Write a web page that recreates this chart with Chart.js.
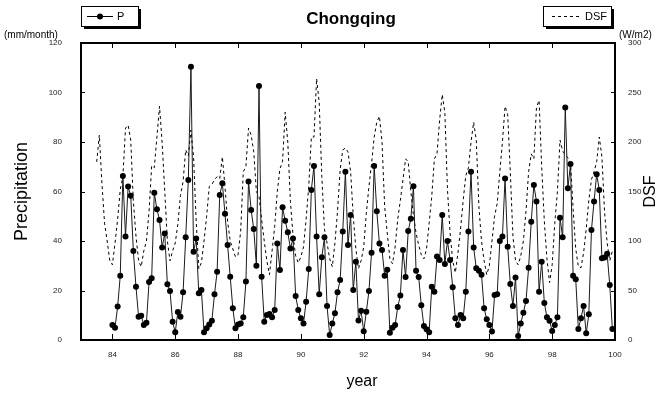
<!DOCTYPE html>
<html>
<head>
<meta charset="utf-8">
<script src="https://cdn.jsdelivr.net/npm/chart.js@4.4.1/dist/chart.umd.min.js"></script>
<style>
  body { margin: 0; background: #fff; }
  #box { width: 669px; height: 394px; }
</style>
</head>
<body>
<div id="box"><canvas id="chongqing" width="669" height="394"></canvas></div>
<script>
// monthly precipitation (mm/month), Jan 1984 .. Dec 1999
var precip = [
  6.1, 5.0, 13.5, 26, 66.3, 41.8, 62, 58.3, 36, 21.5, 9.4, 9.8,
  6.1, 7, 23.4, 25, 59.5, 52.8, 48.5, 37.4, 43, 22.5, 19.8, 7.4,
  3.1, 11.3, 9.4, 19.3, 41.5, 64.6, 110.4, 35.7, 41, 18.9, 20.2, 3.1,
  4.7, 6.3, 7.8, 18.5, 27.6, 58.6, 63.3, 51, 38.4, 25.6, 12.8, 4.7,
  6.3, 6.7, 9.2, 23.6, 64, 52.5, 44.8, 30, 102.6, 25.6, 7.4, 10.1,
  10.5, 9.2, 12.1, 39, 28.3, 53.6, 48.2, 43.5, 37, 41, 17.8, 12.1,
  8.8, 6.7, 15.5, 28.7, 60.6, 70.3, 41.8, 18.5, 33.4, 41.5, 13.7, 2.0,
  6.7, 10.8, 19.3, 24.2, 43.8, 68, 38.4, 50.5, 20.2, 31.6, 7.9, 11.8,
  3.5, 11.4, 19.8, 35.3, 70.3, 52, 39, 36.4, 26, 28.4, 2.9, 4.9,
  6.1, 13.3, 18, 36.4, 25.5, 44, 49, 62.1, 28, 25.5, 14, 5.7,
  4.3, 3.1, 21.5, 19.5, 33.7, 32.3, 50.5, 30.7, 40, 32.3, 21.3, 8.8,
  6.1, 10.1, 8.8, 19.5, 43.8, 68, 37.4, 29, 28, 26.4, 12.8, 8.4,
  6.1, 3.4, 18.2, 18.5, 40, 41.8, 65.3, 37.7, 22.6, 13.7, 25.3, 1.6,
  6.7, 11, 15.8, 29.2, 47.8, 62.6, 56, 19.5, 31.6, 15, 9.2, 7.8,
  3.6, 6.1, 9.2, 49.4, 41.5, 93.9, 61.3, 71.1, 26, 24.5, 4.4, 8.8,
  13.7, 2.7, 10.4, 44.4, 56, 67, 60.6, 33, 33.3, 34.8, 22.2, 4.4
];
var precipStart = 84;

// monthly DSF (W/m2), Jul 1983 .. Dec 1999
var dsf = [
  180, 207, 158, 118, 100, 80,
  76, 98, 122, 152, 165, 214, 217, 202, 140, 105, 80, 74,
  90, 100, 130, 176, 174, 205, 236, 199, 150, 100, 80, 90,
  98, 117, 146, 160, 192, 186, 212, 185, 120, 72, 78, 100,
  125, 155, 157, 162, 165, 163, 185, 155, 120, 100, 92, 84,
  86, 110, 170, 175, 214, 207, 190, 150, 145, 122, 100, 80,
  66, 90, 115, 150, 173, 180, 230, 200, 140, 105, 85, 78,
  84, 94, 122, 155, 205, 205, 264, 240, 165, 112, 98, 82,
  74, 98, 130, 172, 192, 194, 190, 170, 125, 92, 72, 80,
  94, 128, 155, 178, 205, 220, 226, 200, 135, 108, 82, 77,
  94, 122, 141, 162, 183, 180, 150, 126, 108, 96, 86, 82,
  92, 118, 145, 183, 188, 222, 248, 230, 152, 108, 80, 68,
  88, 112, 141, 166, 174, 200, 220, 202, 135, 100, 80, 66,
  75, 100, 125, 138, 170, 200, 236, 228, 170, 105, 80, 76,
  85, 100, 130, 170, 188, 183, 235, 242, 175, 120, 82, 58,
  76, 118, 150, 202, 191, 187, 184, 180, 132, 92, 74, 73,
  88, 112, 141, 162, 170, 180, 205, 185, 130, 98, 80, 90
];
var dsfStart = 83.5;

var yearTicks = [84, 86, 88, 90, 92, 94, 96, 98, 100];
var precipTicks = [0, 20, 40, 60, 80, 100, 120];
var dsfTicks = [0, 50, 100, 150, 200, 250, 300];

var FONT = '"Liberation Sans", Arial, sans-serif';

var pData = precip.map(function (v, i) { return { x: precipStart + i / 12, y: v }; });
var dData = dsf.map(function (v, i) { return { x: dsfStart + i / 12, y: v }; });

// frame, inward ticks, titles and the two boxed keys
var decor = {
  id: 'decor',
  afterDatasetsDraw: function (chart) {
    var c = chart.ctx, a = chart.chartArea;
    var sx = chart.scales.x, sy = chart.scales.y, sy2 = chart.scales.y2;
    c.save();
    c.strokeStyle = '#000';
    c.lineWidth = 1;
    c.beginPath();
    yearTicks.forEach(function (t) {
      var px = Math.round(sx.getPixelForValue(t)) + 0.5;
      c.moveTo(px, a.bottom); c.lineTo(px, a.bottom - 6);
      c.moveTo(px, a.top); c.lineTo(px, a.top + 5);
    });
    precipTicks.forEach(function (t) {
      var py = Math.round(sy.getPixelForValue(t)) + 0.5;
      c.moveTo(a.left, py); c.lineTo(a.left + 4, py);
    });
    dsfTicks.forEach(function (t) {
      var py = Math.round(sy2.getPixelForValue(t)) + 0.5;
      c.moveTo(a.right, py); c.lineTo(a.right - 4, py);
    });
    c.stroke();
    c.lineWidth = 2;
    c.strokeRect(a.left, a.top, a.right - a.left, a.bottom - a.top);
    c.restore();
  },
  afterDraw: function (chart) {
    var c = chart.ctx, a = chart.chartArea;
    c.save();
    c.fillStyle = '#000';
    c.textAlign = 'center';
    c.textBaseline = 'middle';

    c.font = 'bold 17px ' + FONT;
    c.fillText('Chongqing', 351, 19);

    c.font = '16px ' + FONT;
    c.fillText('year', 362, 382);

    c.save();
    c.translate(22, (a.top + a.bottom) / 2);
    c.rotate(-Math.PI / 2);
    c.font = '18px ' + FONT;
    c.fillText('Precipitation', 0, 0);
    c.restore();

    c.save();
    c.translate(651, (a.top + a.bottom) / 2);
    c.rotate(-Math.PI / 2);
    c.fillText('DSF', 0, 0);
    c.restore();

    c.font = '10px ' + FONT;
    c.textAlign = 'left';
    c.fillText('(mm/month)', 4, 35);
    c.fillText('(W/m2)', 619, 35);

    function keyBox(x, y, w, h) {
      c.fillStyle = '#000';
      c.fillRect(x + 3, y + 3, w, h);
      c.fillStyle = '#fff';
      c.fillRect(x, y, w, h);
      c.strokeStyle = '#000';
      c.lineWidth = 1;
      c.strokeRect(x + 0.5, y + 0.5, w, h);
    }

    keyBox(81, 6, 57, 20);
    c.strokeStyle = '#000';
    c.lineWidth = 1;
    c.beginPath();
    c.moveTo(87, 16.5); c.lineTo(113, 16.5);
    c.stroke();
    c.beginPath();
    c.arc(100, 16.5, 3, 0, Math.PI * 2);
    c.fillStyle = '#000';
    c.fill();
    c.font = '11px ' + FONT;
    c.textAlign = 'left';
    c.fillText('P', 117, 17);

    keyBox(543, 6, 68, 20);
    c.setLineDash([3, 3]);
    c.beginPath();
    c.moveTo(552, 16.5); c.lineTo(581, 16.5);
    c.stroke();
    c.setLineDash([]);
    c.fillStyle = '#000';
    c.fillText('DSF', 585, 17);
    c.restore();
  }
};

new Chart(document.getElementById('chongqing'), {
  type: 'line',
  data: {
    datasets: [{
      label: 'P',
      data: pData,
      yAxisID: 'y',
      borderColor: '#1a1a1a',
      borderWidth: 1,
      pointRadius: 3,
      pointBackgroundColor: '#000',
      pointBorderColor: '#000',
      pointBorderWidth: 0,
      tension: 0
    }, {
      label: 'DSF',
      data: dData,
      yAxisID: 'y2',
      borderColor: '#000',
      borderWidth: 1,
      borderDash: [3, 3],
      pointRadius: 0,
      tension: 0
    }]
  },
  options: {
    responsive: false,
    animation: false,
    devicePixelRatio: 1,
    layout: { padding: { top: 43 } },
    plugins: { legend: { display: false }, tooltip: { enabled: false } },
    scales: {
      x: {
        type: 'linear', min: 83, max: 100,
        afterBuildTicks: function (s) { s.ticks = yearTicks.map(function (v) { return { value: v }; }); },
        afterFit: function (s) { s.height = 54; },
        grid: { display: false, drawTicks: false },
        border: { display: false },
        ticks: { color: '#222', font: { size: 8, family: FONT }, padding: 10, maxRotation: 0, autoSkip: false }
      },
      y: {
        position: 'left', min: 0, max: 120,
        afterBuildTicks: function (s) { s.ticks = precipTicks.map(function (v) { return { value: v }; }); },
        afterFit: function (s) { s.width = 81; },
        grid: { display: false, drawTicks: false },
        border: { display: false },
        ticks: { color: '#222', font: { size: 8, family: FONT }, padding: 19 }
      },
      y2: {
        position: 'right', min: 0, max: 300,
        afterBuildTicks: function (s) { s.ticks = dsfTicks.map(function (v) { return { value: v }; }); },
        afterFit: function (s) { s.width = 54; },
        grid: { display: false, drawTicks: false },
        border: { display: false },
        ticks: { color: '#222', font: { size: 8, family: FONT }, padding: 13 }
      }
    }
  },
  plugins: [decor]
});
</script>
</body>
</html>
